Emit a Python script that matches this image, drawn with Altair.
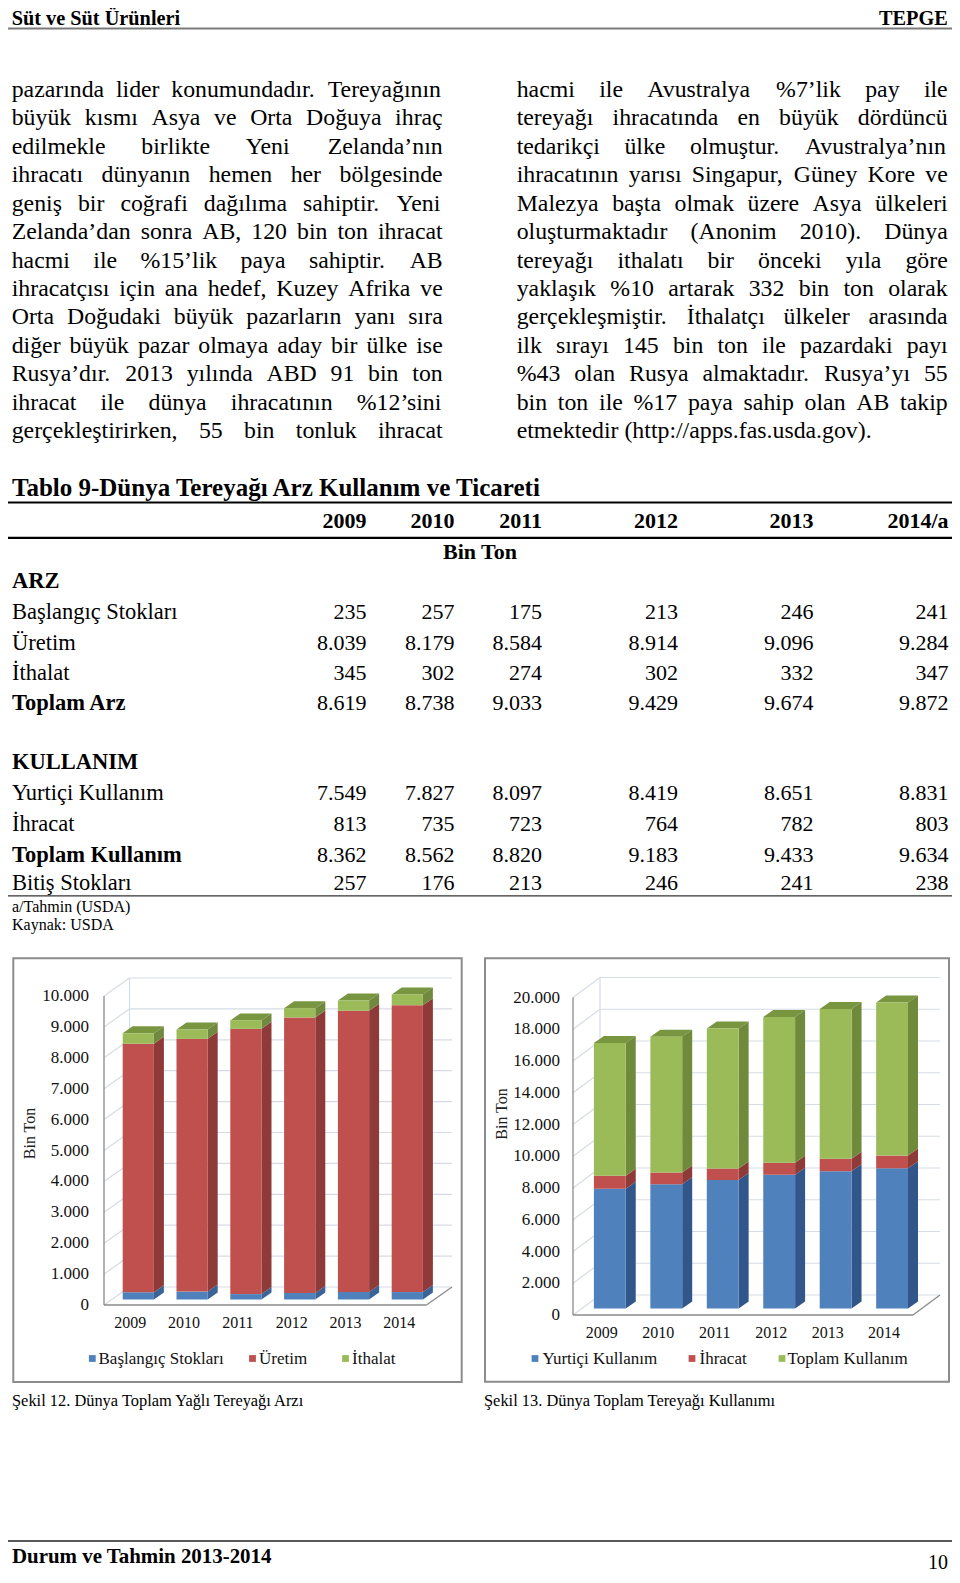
import altair as alt
import pandas as pd

# ---------------- data ----------------
years = ["2009", "2010", "2011", "2012", "2013", "2014"]
table_years = ["2009", "2010", "2011", "2012", "2013", "2014/a"]
baslangic_stoklari = [235, 257, 175, 213, 246, 241]
uretim = [8039, 8179, 8584, 8914, 9096, 9284]
ithalat = [345, 302, 274, 302, 332, 347]
toplam_arz = [8619, 8738, 9033, 9429, 9674, 9872]
yurtici_kullanim = [7549, 7827, 8097, 8419, 8651, 8831]
ihracat = [813, 735, 723, 764, 782, 803]
toplam_kullanim = [8362, 8562, 8820, 9183, 9433, 9634]
bitis_stoklari = [257, 176, 213, 246, 241, 238]

arz_series = ["Başlangıç Stokları", "Üretim", "İthalat"]
kullanim_series = ["Yurtiçi Kullanım", "İhracat", "Toplam Kullanım"]
ticks1 = [0, 1000, 2000, 3000, 4000, 5000, 6000, 7000, 8000, 9000, 10000]
ticks2 = [0, 2000, 4000, 6000, 8000, 10000, 12000, 14000, 16000, 18000, 20000]

left_lines = [
    "pazarında lider konumundadır. Tereyağının",
    "büyük kısmı Asya ve Orta Doğuya ihraç",
    "edilmekle birlikte Yeni Zelanda’nın",
    "ihracatı dünyanın hemen her bölgesinde",
    "geniş bir coğrafi dağılıma sahiptir. Yeni",
    "Zelanda’dan sonra AB, 120 bin ton ihracat",
    "hacmi ile %15’lik paya sahiptir. AB",
    "ihracatçısı için ana hedef, Kuzey Afrika ve",
    "Orta Doğudaki büyük pazarların yanı sıra",
    "diğer büyük pazar olmaya aday bir ülke ise",
    "Rusya’dır. 2013 yılında ABD 91 bin ton",
    "ihracat ile dünya ihracatının %12’sini",
    "gerçekleştirirken, 55 bin tonluk ihracat",
]
right_lines = [
    "hacmi ile Avustralya %7’lik pay ile",
    "tereyağı ihracatında en büyük dördüncü",
    "tedarikçi ülke olmuştur. Avustralya’nın",
    "ihracatının yarısı Singapur, Güney Kore ve",
    "Malezya başta olmak üzere Asya ülkeleri",
    "oluşturmaktadır (Anonim 2010). Dünya",
    "tereyağı ithalatı bir önceki yıla göre",
    "yaklaşık %10 artarak 332 bin ton olarak",
    "gerçekleşmiştir. İthalatçı ülkeler arasında",
    "ilk sırayı 145 bin ton ile pazardaki payı",
    "%43 olan Rusya almaktadır. Rusya’yı 55",
    "bin ton ile %17 paya sahip olan AB takip",
    "etmektedir (http://apps.fas.usda.gov).",
]

table_rows = [
    ("Başlangıç Stokları", baslangic_stoklari, False),
    ("Üretim", uretim, False),
    ("İthalat", ithalat, False),
    ("Toplam Arz", toplam_arz, True),
    ("Yurtiçi Kullanım", yurtici_kullanim, False),
    ("İhracat", ihracat, False),
    ("Toplam Kullanım", toplam_kullanim, True),
    ("Bitiş Stokları", bitis_stoklari, False),
]

# ---------------- helpers ----------------
SERIF = "Liberation Serif"
M = 8  # page margin


def P(v):
    return v - M


def fmt(v):
    return f"{v:,}".replace(",", ".")


TW = {}
for chars, w in [("acez", 444), ("bdghknopquvxy", 500), ("fr", 333), ("ijlt", 278), ("m", 778),
                 ("s", 389), ("w", 722), ("ADGHKNOQUVXY", 722), ("BCR", 667), ("E", 611),
                 ("FPS", 556), ("I", 333), ("J", 389), ("LTZ", 611), ("M", 889), ("W", 944),
                 ("0123456789", 500), (" .,", 250), (":;/", 278), ("’()-", 333), ("%", 833),
                 ("ğöü", 500), ("ı", 278), ("ş", 389), ("ç", 444), ("İ", 333), ("ÜÖĞ", 722),
                 ("Ş", 556), ("Ç", 667)]:
    for ch in chars:
        TW[ch] = w


def word_w(word, size):
    return sum(TW.get(c, 500) for c in word) / 1000 * size


def justify(lines, x0, width, y0, step, size, last_free=False):
    rows = []
    for k, line in enumerate(lines):
        words = line.split(" ")
        ws = [word_w(w, size) for w in words]
        free = last_free and k == len(lines) - 1
        gap = 0.25 * size if (free or len(words) < 2) else (width - sum(ws)) / (len(words) - 1)
        x = x0
        for w, wd in zip(words, ws):
            rows.append(dict(t=w, x=P(x), y=P(y0 + k * step), s=size))
            x += wd + gap
    return rows


def texts(rows, weight="normal", align="left", baseline="alphabetic", angle=0, color="#000000"):
    df = pd.DataFrame(rows)
    return alt.Chart(df).mark_text(font=SERIF, fontWeight=weight, align=align, baseline=baseline,
                                   angle=angle, color=color).encode(
        x=alt.X("x:Q", scale=None, axis=None),
        y=alt.Y("y:Q", scale=None, axis=None),
        size=alt.Size("s:Q", scale=None, legend=None),
        text="t:N",
    )


def T(t, x, y, s):
    return dict(t=t, x=P(x), y=P(y), s=s)


GRID = "#D6DCE5"
AXIS = "#8A8A8A"
layers = []

# ---------------- chart frames ----------------
frames = pd.DataFrame([dict(x1=P(13.3), y1=P(958.3), x2=P(461.7), y2=P(1382)),
                       dict(x1=P(485), y1=P(958.3), x2=P(949), y2=P(1381.7))])
layers.append(alt.Chart(frames).mark_rect(fillOpacity=0, stroke="#8C8C8C", strokeWidth=2).encode(
    x=alt.X("x1:Q", scale=None, axis=None), x2="x2:Q",
    y=alt.Y("y1:Q", scale=None, axis=None), y2="y2:Q"))


def chart3d(series, vals, ticks, ydom, bar_y_rng, wall_y_rng, x_rng, half_w, wall_depth,
            x_front, x_back, x_back_right, x_floor_right, front_cols, side_cols, top_col,
            label_right, year_y, title_xy, legend_sq, legend_tx):
    out = []
    wall_unit = (wall_y_rng[0] - wall_y_rng[1]) / (ydom[1] - ydom[0])
    dep_u = wall_depth / wall_unit
    ws = alt.Scale(domain=ydom, range=[P(wall_y_rng[0]), P(wall_y_rng[1])], nice=False, zero=False)
    gdf = pd.DataFrame({"v": ticks, "vb": [t + dep_u for t in ticks]})
    out.append(alt.Chart(gdf).mark_rule(color=GRID, strokeWidth=1.2).encode(
        x=alt.value(P(x_back)), x2=alt.value(P(x_back_right)), y=alt.Y("vb:Q", scale=ws, axis=None)))
    out.append(alt.Chart(gdf).mark_rule(color=GRID, strokeWidth=1.2).encode(
        x=alt.value(P(x_front)), x2=alt.value(P(x_back)), y=alt.Y("v:Q", scale=ws, axis=None), y2="vb:Q"))
    edf = pd.DataFrame([dict(v0=ticks[0], v1=ticks[-1], b0=ticks[0] + dep_u, b1=ticks[-1] + dep_u)])
    out.append(alt.Chart(edf).mark_rule(color=GRID, strokeWidth=1.2).encode(
        x=alt.value(P(x_back)), y=alt.Y("b0:Q", scale=ws, axis=None), y2="b1:Q"))
    out.append(alt.Chart(edf).mark_rule(color=AXIS, strokeWidth=1.3).encode(
        x=alt.value(P(x_front)), y=alt.Y("v0:Q", scale=ws, axis=None), y2="v1:Q"))
    out.append(alt.Chart(edf).mark_rule(color=AXIS, strokeWidth=1.3).encode(
        x=alt.value(P(x_front)), x2=alt.value(P(x_floor_right)), y=alt.Y("v0:Q", scale=ws, axis=None)))
    out.append(alt.Chart(edf).mark_rule(color=AXIS, strokeWidth=1.3).encode(
        x=alt.value(P(x_floor_right)), x2=alt.value(P(x_back_right)),
        y=alt.Y("v0:Q", scale=ws, axis=None), y2="b0:Q"))

    # bars
    xs = alt.Scale(domain=[0, 6], range=[P(x_rng[0]), P(x_rng[1])], nice=False, zero=False)
    ys = alt.Scale(domain=ydom, range=[P(bar_y_rng[0]), P(bar_y_rng[1])], nice=False, zero=False)
    ux = (x_rng[1] - x_rng[0]) / 6
    uy = (bar_y_rng[0] - bar_y_rng[1]) / (ydom[1] - ydom[0])
    ddx, ddy = 10 / ux, 7 / uy
    front, side, top = [], [], []
    for i in range(len(years)):
        lo = 0
        xl, xr = i + 0.5 - half_w, i + 0.5 + half_w
        for name, v in zip(series, vals):
            hi = lo + v[i]
            seg = f"{i}-{name}"
            front.append(dict(series=name, xl=xl, xr=xr, lo=lo, hi=hi))
            side.append(dict(seg=seg, series=name, x=xr, lo=lo, hi=hi))
            side.append(dict(seg=seg, series=name, x=xr + ddx, lo=lo + ddy, hi=hi + ddy))
            lo = hi
        seg = f"top{i}"
        top += [dict(seg=seg, x=xl, lo=lo, hi=lo), dict(seg=seg, x=xl + ddx, lo=lo, hi=lo + ddy),
                dict(seg=seg, x=xr, lo=lo, hi=lo + ddy), dict(seg=seg, x=xr + ddx, lo=lo + ddy, hi=lo + ddy)]
    out.append(alt.Chart(pd.DataFrame(top)).mark_area(color=top_col, interpolate="linear").encode(
        x=alt.X("x:Q", scale=xs, axis=None), y=alt.Y("hi:Q", scale=ys, axis=None, stack=None), y2="lo:Q",
        detail="seg:N"))
    out.append(alt.Chart(pd.DataFrame(side)).mark_area(interpolate="linear").encode(
        x=alt.X("x:Q", scale=xs, axis=None), y=alt.Y("hi:Q", scale=ys, axis=None, stack=None), y2="lo:Q",
        detail="seg:N",
        color=alt.Color("series:N", scale=alt.Scale(domain=series, range=side_cols), legend=None)))
    out.append(alt.Chart(pd.DataFrame(front)).mark_rect().encode(
        x=alt.X("xl:Q", scale=xs, axis=None), x2="xr:Q",
        y=alt.Y("hi:Q", scale=ys, axis=None), y2="lo:Q",
        color=alt.Color("series:N", scale=alt.Scale(domain=series, range=front_cols), legend=None)))

    # tick labels
    tdf = pd.DataFrame({"v": ticks, "t": [fmt(t) for t in ticks]})
    out.append(alt.Chart(tdf).mark_text(font=SERIF, fontSize=17, align="right", baseline="middle",
                                        color="#111111").encode(
        x=alt.value(P(label_right)), y=alt.Y("v:Q", scale=ws, axis=None), text="t:N"))
    ydf = pd.DataFrame({"c": [i + 0.5 for i in range(len(years))], "t": years})
    out.append(alt.Chart(ydf).mark_text(font=SERIF, fontSize=16, align="center", baseline="middle",
                                        dx=-8, color="#111111").encode(
        x=alt.X("c:Q", scale=xs, axis=None), y=alt.value(P(year_y)), text="t:N"))
    out.append(texts([T("Bin Ton", title_xy[0], title_xy[1], 16)], align="center", baseline="middle",
                     angle=270, color="#222222"))
    # legend
    ldf = pd.DataFrame([dict(x=P(sx), y=P(1358.5), c=c) for sx, c in zip(legend_sq, front_cols)])
    out.append(alt.Chart(ldf).mark_square(size=46, opacity=1).encode(
        x=alt.X("x:Q", scale=None, axis=None), y=alt.Y("y:Q", scale=None, axis=None),
        color=alt.Color("c:N", scale=None)))
    out.append(texts([T(n, tx, 1358.5, 17) for n, tx in zip(series, legend_tx)], baseline="middle",
                     color="#111111"))
    return out


layers += chart3d(arz_series, [baslangic_stoklari, uretim, ithalat], ticks1, [0, 10000],
                  (1299.5, 990.5), (1305, 996), (111.4, 434.2), 0.29, 18,
                  104, 129.5, 452, 426.5,
                  ["#4F81BD", "#C0504D", "#9BBB59"], ["#3A6496", "#8E3A38", "#71893F"], "#789540",
                  89, 1323, (29.5, 1133.5), [92.3, 252.5, 345.5], [98.5, 259, 352])
layers += chart3d(kullanim_series, [yurtici_kullanim, ihracat, toplam_kullanim], ticks2, [0, 20000],
                  (1308.5, 991), (1315, 997.5), (581.6, 920.3), 0.282, 20,
                  573, 600, 940, 913,
                  ["#4F81BD", "#C0504D", "#9BBB59"], ["#30568A", "#8E3A38", "#6E8A3A"], "#789540",
                  560, 1333, (501.7, 1114), [535, 692, 782], [542.5, 699.5, 787.5])

# ---------------- page text ----------------
body_size = 23.8
body = justify(left_lines, 11.7, 431, 96.7, 28.47, body_size) + \
    justify(right_lines, 516.7, 431, 96.7, 28.47, body_size, last_free=True)
layers.append(texts(body))

bold_left = [T("Süt ve Süt Ürünleri", 11.7, 24.5, 20.3),
             T("Tablo 9-Dünya Tereyağı Arz Kullanım ve Ticareti", 12, 495.5, 25),
             T("ARZ", 12, 588, 22.5), T("KULLANIM", 12, 769, 22.5),
             T("Durum ve Tahmin 2013-2014", 12, 1562.5, 20.9)]
col_x = [366.5, 454.5, 542, 678, 813.5, 948.5]
bold_right = [T("TEPGE", 947.7, 24.5, 20.3)] + [T(y, cx, 528, 22) for y, cx in zip(table_years, col_x)]
row_y = [619, 649.5, 680, 710, 800, 830.5, 861.5, 890]
reg_left, reg_right = [], []
for (label, vals, bold), ry in zip(table_rows, row_y):
    (bold_left if bold else reg_left).append(T(label, 12, ry, 22.5))
    reg_right += [T(fmt(v), cx, ry, 22) for v, cx in zip(vals, col_x)]
reg_left += [T("a/Tahmin (USDA)", 12, 911.5, 16), T("Kaynak: USDA", 12, 930, 16),
             T("Şekil 12. Dünya Toplam Yağlı Tereyağı Arzı", 12, 1406, 16.4),
             T("Şekil 13. Dünya Toplam Tereyağı Kullanımı", 484, 1406, 16.4)]
reg_right.append(T("10", 948, 1569, 20))

layers.append(texts(bold_left, weight="bold"))
layers.append(texts(bold_right, weight="bold", align="right"))
layers.append(texts([T("Bin Ton", 480, 559, 22)], weight="bold", align="center"))
layers.append(texts(reg_left))
layers.append(texts(reg_right, align="right"))

# ---------------- rules ----------------
rules = pd.DataFrame([
    dict(x1=P(8), x2=P(952), y=P(28.5), c="#7A7A7A", w=2.2),
    dict(x1=P(7), x2=P(956), y=P(502.5), c="#000000", w=1.8),
    dict(x1=P(7), x2=P(956), y=P(537.8), c="#000000", w=2.3),
    dict(x1=P(7), x2=P(956), y=P(895.8), c="#333333", w=1.3),
    dict(x1=P(8), x2=P(953), y=P(1541), c="#222222", w=1.6),
])
layers.append(alt.Chart(rules).mark_rule().encode(
    x=alt.X("x1:Q", scale=None, axis=None), x2="x2:Q",
    y=alt.Y("y:Q", scale=None, axis=None),
    color=alt.Color("c:N", scale=None),
    strokeWidth=alt.StrokeWidth("w:Q", scale=None, legend=None)))

chart = alt.layer(*layers).resolve_scale(
    x="independent", y="independent", color="independent", size="independent", strokeWidth="independent"
).properties(
    width=944, height=1567, padding=0, autosize=alt.AutoSizeParams(type="none")
).configure(background="white").configure_view(stroke=None)

chart.save("out.html", embed_options={"renderer": "svg", "actions": False})
